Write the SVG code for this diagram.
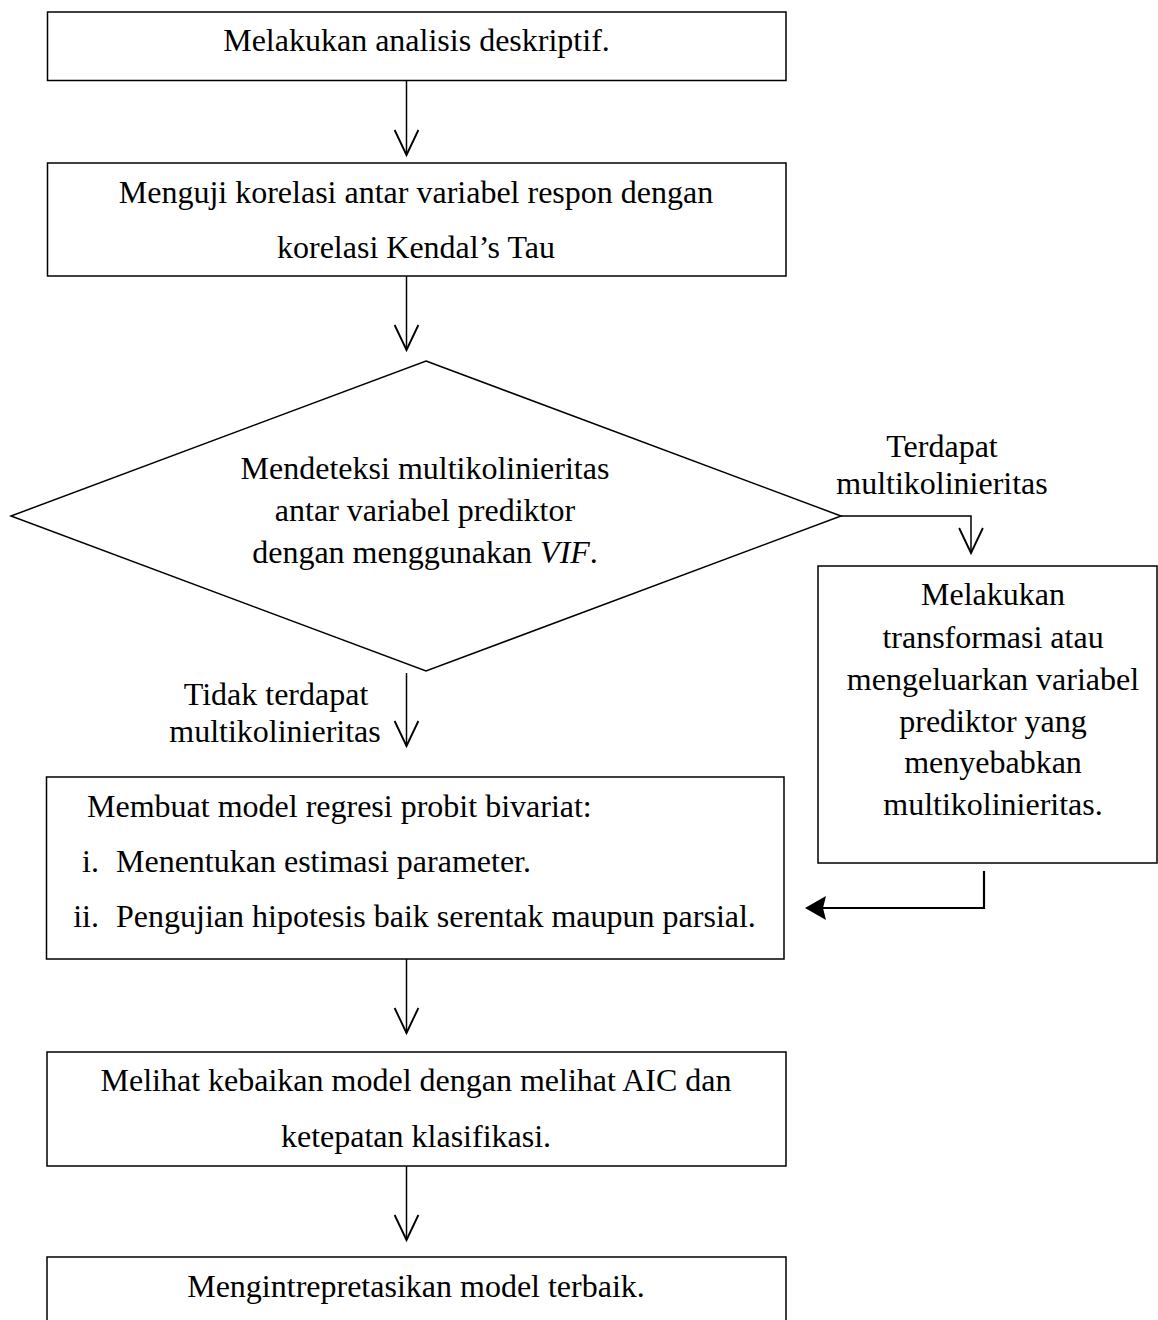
<svg xmlns="http://www.w3.org/2000/svg" width="1158" height="1320" viewBox="0 0 1158 1320">
<style>
  .box { fill: #fff; stroke: #000; stroke-width: 1.5; }
  .t { font-family: "Liberation Serif", "Times New Roman", serif; font-size: 32px; fill: #000; }
  .c { text-anchor: middle; }
  .e { text-anchor: end; }
  .ln { fill: none; stroke: #000; stroke-width: 1.5; }
  .thick { fill: none; stroke: #000; stroke-width: 2.2; }
</style>
<defs>
  <marker id="open" markerUnits="userSpaceOnUse" markerWidth="30" markerHeight="30" viewBox="-22 -12 24 24" refX="0" refY="0" orient="auto" overflow="visible">
    <path d="M-20,-9.5 L0,0 L-20,9.5" fill="none" stroke="#000" stroke-width="1.5"/>
  </marker>
  <marker id="filled" markerUnits="userSpaceOnUse" markerWidth="30" markerHeight="30" viewBox="-12 -10 20 20" refX="0" refY="0" orient="auto" overflow="visible">
    <path d="M6,0 L-8,-8 L-6,0 L-8,8 Z" fill="#000" stroke="none"/>
  </marker>
</defs>
<rect width="1158" height="1320" fill="#fff"/>

<g id="connectors">
  <path class="ln" d="M406.5,80.5 V155" marker-end="url(#open)"/>
  <path class="ln" d="M406.5,276 V350" marker-end="url(#open)"/>
  <path class="ln" d="M406.5,673 V746" marker-end="url(#open)"/>
  <path class="ln" d="M841,516 H971 V553" marker-end="url(#open)"/>
  <path class="thick" d="M984,871 V908 H814" marker-end="url(#filled)"/>
  <path class="ln" d="M406.5,959 V1033" marker-end="url(#open)"/>
  <path class="ln" d="M406.5,1166 V1240" marker-end="url(#open)"/>
  <text class="t c" x="276" y="705">Tidak terdapat</text>
  <text class="t c" x="275" y="742">multikolinieritas</text>
  <text class="t c" x="942" y="457">Terdapat</text>
  <text class="t c" x="942" y="494">multikolinieritas</text>
</g>

<g id="node-descriptive">
  <rect class="box" x="47.5" y="12" width="738.5" height="68.5"/>
  <text class="t c" x="416.5" y="51">Melakukan analisis deskriptif.</text>
</g>

<g id="node-correlation">
  <rect class="box" x="47.5" y="163" width="738.5" height="113"/>
  <text class="t c" x="416" y="203">Menguji korelasi antar variabel respon dengan</text>
  <text class="t c" x="416" y="258">korelasi Kendal’s Tau</text>
</g>

<g id="node-decision">
  <polygon class="box" points="426,361 841,516 426,671 11,516"/>
  <text class="t c" x="425" y="479">Mendeteksi multikolinieritas</text>
  <text class="t c" x="425" y="521">antar variabel prediktor</text>
  <text class="t c" x="425" y="563">dengan menggunakan <tspan font-style="italic">VIF</tspan>.</text>
</g>

<g id="node-transform">
  <rect class="box" x="818" y="566" width="339" height="297"/>
  <text class="t c" x="993" y="605">Melakukan</text>
  <text class="t c" x="993" y="648">transformasi atau</text>
  <text class="t c" x="993" y="690">mengeluarkan variabel</text>
  <text class="t c" x="993" y="732">prediktor yang</text>
  <text class="t c" x="993" y="773">menyebabkan</text>
  <text class="t c" x="993" y="815">multikolinieritas.</text>
</g>

<g id="node-model">
  <rect class="box" x="46.5" y="777" width="737.5" height="182"/>
  <text class="t" x="87" y="817">Membuat model regresi probit bivariat:</text>
  <text class="t e" x="99" y="872">i.</text>
  <text class="t" x="116" y="872">Menentukan estimasi parameter.</text>
  <text class="t e" x="99" y="927">ii.</text>
  <text class="t" x="116" y="927">Pengujian hipotesis baik serentak maupun parsial.</text>
</g>

<g id="node-goodness">
  <rect class="box" x="47" y="1052" width="739" height="114"/>
  <text class="t c" x="416" y="1091">Melihat kebaikan model dengan melihat AIC dan</text>
  <text class="t c" x="416" y="1147">ketepatan klasifikasi.</text>
</g>

<g id="node-interpret">
  <rect class="box" x="47" y="1257" width="739" height="80"/>
  <text class="t c" x="416" y="1297">Mengintrepretasikan model terbaik.</text>
</g>
</svg>
